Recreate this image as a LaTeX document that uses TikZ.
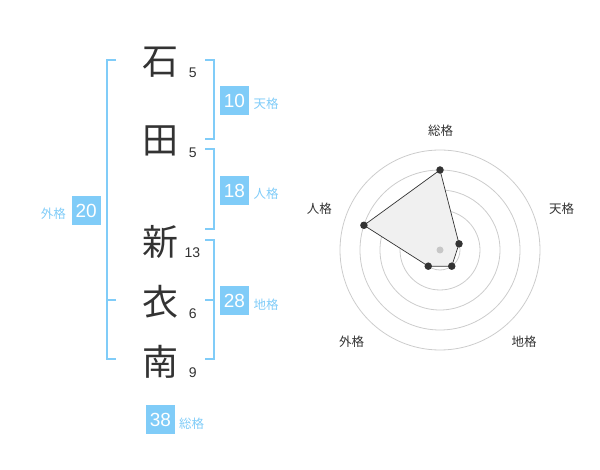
\documentclass[tikz,border=0pt]{standalone}
\usepackage{fontspec}
\setmainfont{Liberation Sans}
\newfontfamily\jp{Noto Sans CJK JP}
\definecolor{kaku}{RGB}{128,204,248}
\definecolor{ink}{RGB}{51,51,51}

\begin{document}
\begin{tikzpicture}[x=1pt,y=-1pt,
    bracket/.style={draw=kaku,line width=2pt},
    kbox/.style={fill=kaku,text=white,minimum size=29pt,inner sep=0pt,
      font=\fontsize{19}{19}\selectfont},
    klabel/.style={text=kaku,inner sep=0pt,font=\jp\fontsize{12.5}{12.5}\selectfont}]

      \useasboundingbox (0,0) rectangle (600,470);

      % name
      \begin{scope}[every node/.style={text=ink,inner sep=0pt,font=\jp\fontsize{36}{36}\selectfont}]
        \node (k1) at (160,62)  {石};
        \node (k2) at (160,141) {田};
        \node (k3) at (160,242) {新};
        \node (k4) at (160,302) {衣};
        \node (k5) at (160,362) {南};
      \end{scope}

      % strokes
      \begin{scope}[every node/.style={text=ink,inner sep=0pt,font=\fontsize{14}{14}\selectfont}]
        \node (n1) at (192.7,72.7)  {5};
        \node (n2) at (192.7,152.7) {5};
        \node (n3) at (192.3,252.7) {13};
        \node (n4) at (192.7,313.3) {6};
        \node (n5) at (192.7,372.7) {9};
      \end{scope}

      % brackets
      \coordinate (gaiA) at (116,60);
      \coordinate (gaiB) at (116,359);
      \coordinate (gaiM) at (116,300);
      \coordinate (tenA) at (205,60);
      \coordinate (tenB) at (205,139);
      \coordinate (jinA) at (205,149);
      \coordinate (jinB) at (205,229);
      \coordinate (chiA) at (205,240);
      \coordinate (chiB) at (205,359);
      \coordinate (chiM) at (205,300);

      \draw[bracket] (gaiA) -- ++(-9,0) |- (gaiB);
      \draw[bracket] (gaiM) -- ++(-9,0);
      \draw[bracket] (tenA) -- ++(9,0) |- (tenB);
      \draw[bracket] (jinA) -- ++(9,0) |- (jinB);
      \draw[bracket] (chiA) -- ++(9,0) |- (chiB);
      \draw[bracket] (chiM) -- ++(9,0);

      % totals
      \node[kbox] (ten) at (234.5,100.5) {10};
      \node[kbox] (jin) at (234.5,190.5) {18};
      \node[kbox] (chi) at (234.5,300.5) {28};
      \node[kbox] (gai) at (86.2,210.5)  {20};
      \node[kbox] (sou) at (160.5,419.5) {38};

      \node[klabel] (tenL) at (266,104)   {天格};
      \node[klabel] (jinL) at (266,194)   {人格};
      \node[klabel] (chiL) at (266,304.3) {地格};
      \node[klabel] (gaiL) at (53.3,213.3) {外格};
      \node[klabel] (souL) at (191.7,423.3) {総格};

      % radar
      \begin{scope}[shift={(440,250)},y=1pt]
        \draw[black!20,line width=0.8pt] (0,0) circle (20);
        \draw[black!20,line width=0.8pt] (0,0) circle (40);
        \draw[black!20,line width=0.8pt] (0,0) circle (60);
        \draw[black!20,line width=0.8pt] (0,0) circle (80);
        \draw[black!20,line width=0.8pt] (0,0) circle (100);

        \coordinate (rSou) at (90:80);
        \coordinate (rTen) at (18:20);
        \coordinate (rChi) at (-54:20);
        \coordinate (rGai) at (-126:20);
        \coordinate (rJin) at (162:80);

        \draw[fill=black!6,draw=ink,line width=0.7pt]
          (rSou) -- (rTen) -- (rChi) -- (rGai) -- (rJin) -- cycle;

        \node[circle,fill=black!22,inner sep=0pt,minimum size=7pt] (mid) at (0,0) {};

        \begin{scope}[every node/.style={circle,fill=ink,inner sep=0pt,minimum size=7.5pt}]
          \node (d1) at (rSou) {};
          \node (d2) at (rTen) {};
          \node (d3) at (rChi) {};
          \node (d4) at (rGai) {};
          \node (d5) at (rJin) {};
        \end{scope}
      \end{scope}

      \begin{scope}[every node/.style={text=ink,inner sep=0pt,font=\jp\fontsize{12.5}{12.5}\selectfont}]
        \node (aSou) at (440.7,130.7) {総格};
        \node (aTen) at (561.7,209)   {天格};
        \node (aJin) at (319.3,209)   {人格};
        \node (aGai) at (351.7,342)   {外格};
        \node (aChi) at (524,342)     {地格};
      \end{scope}

    \end{tikzpicture}
\end{document}
